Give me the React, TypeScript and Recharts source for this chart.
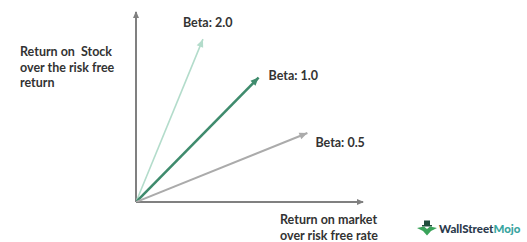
import { ComposedChart, Line, XAxis, YAxis, ReferenceDot, ReferenceLine, LabelList } from 'recharts';

// end points of the three beta arrows (all start at the origin)
const betas = ['2.0', '1.0', '0.5'];
const endX = [2.95, 5.4, 7.55];
const endY = [7.2, 5.5, 3.05];
const X_MAX = 10;
const Y_MAX = 8.4;

const yTitle = ['Return on  Stock', 'over the risk free', 'return'];
const xTitle = ['Return on market', 'over risk free rate'];

const LINE_STYLE: Record<string, { color: string; width: number; dx: number; dy: number }> = {
  '2.0': { color: '#b3dccb', width: 1.6, dx: -20, dy: -17 },
  '1.0': { color: '#3f8b6d', width: 2.6, dx: 10, dy: -2 },
  '0.5': { color: '#ababab', width: 2, dx: 8, dy: 9 },
};

const FONT = 'Lato, "Open Sans", sans-serif';
const AXIS = '#808080';

const arrowHead = (x: number, y: number, ang: number, color: string, len = 8, half = 3.5) => {
  const c = Math.cos(ang);
  const s = Math.sin(ang);
  const bx = x - len * c;
  const by = y - len * s;
  const pts = [
    [x, y],
    [bx - half * s, by + half * c],
    [bx + half * s, by - half * c],
  ];
  return <polygon points={pts.map((p) => p.join(',')).join(' ')} fill={color} />;
};

const makeDot = (color: string) => (p: any) => {
  if (p.index !== 1) return <g key={`d-${p.index}`} />;
  const o = p.points?.[0] ?? { x: 136, y: 202 };
  const ang = Math.atan2(p.cy - o.y, p.cx - o.x);
  return <g key={`d-${p.index}`}>{arrowHead(p.cx, p.cy, ang, color)}</g>;
};

const makeLabel = (beta: string) => (p: any) => {
  if (p.index !== 1) return null;
  const st = LINE_STYLE[beta];
  return (
    <text
      x={p.x + st.dx}
      y={p.y + st.dy}
      dominantBaseline="central"
      fontFamily={FONT}
      fontWeight={700}
      fontSize={12.5}
      fill="#333"
    >
      {`Beta: ${beta}`}
    </text>
  );
};

const Logo = () => (
  <div style={{ position: 'absolute', left: 417, top: 220, display: 'flex', alignItems: 'center', fontFamily: FONT, fontWeight: 900, fontSize: 11.5 }}>
    <svg width={20} height={16} viewBox="0 0 20 16">
      <rect x={7} y={0.5} width={6} height={5} fill="#1f4d3b" />
      <rect x={5} y={5} width={10} height={1.5} fill="#1f4d3b" />
      <path d="M0 8 L7 6.5 L10 9 L13 6.5 L20 8 L14 11 L10 15.5 L6 11 Z" fill="#3aa35a" />
    </svg>
    <span style={{ color: '#2b3a4d', marginLeft: 2 }}>WallStreet</span>
    <span style={{ color: '#3aa5a0' }}>Mojo</span>
  </div>
);

export default function App() {
  return (
    <div style={{ position: 'absolute', left: 0, top: 0, width: 527, height: 242, background: '#fff' }}>
      <ComposedChart width={527} height={242} margin={{ top: 12, right: 164, bottom: 40, left: 136 }}>
        <XAxis type="number" dataKey="x" domain={[0, X_MAX]} hide allowDataOverflow />
        <YAxis type="number" dataKey="y" domain={[0, Y_MAX]} hide allowDataOverflow />
        <ReferenceLine
          segment={[{ x: 0, y: 0 }, { x: X_MAX, y: 0 }]}
          stroke={AXIS}
          strokeWidth={2}
          ifOverflow="visible"
        />
        <ReferenceLine
          segment={[{ x: 0, y: 0 }, { x: 0, y: Y_MAX }]}
          stroke={AXIS}
          strokeWidth={2}
          ifOverflow="visible"
        />
        <ReferenceDot
          x={X_MAX}
          y={0}
          ifOverflow="visible"
          shape={(p: any) => arrowHead(p.cx + 1, p.cy, 0, AXIS, 7, 3)}
        />
        <ReferenceDot
          x={0}
          y={Y_MAX}
          ifOverflow="visible"
          shape={(p: any) => arrowHead(p.cx, p.cy - 1, -Math.PI / 2, AXIS, 7, 3)}
        />
        {betas.map((b, i) => (
          <Line
            key={b}
            data={[
              { x: 0, y: 0 },
              { x: endX[i], y: endY[i] },
            ]}
            dataKey="y"
            stroke={LINE_STYLE[b].color}
            strokeWidth={LINE_STYLE[b].width}
            dot={makeDot(LINE_STYLE[b].color)}
            activeDot={false}
            isAnimationActive={false}
          >
            <LabelList dataKey="y" content={makeLabel(b)} />
          </Line>
        ))}
      </ComposedChart>
      <div style={{ position: 'absolute', left: 20, top: 44, fontFamily: FONT, fontWeight: 700, fontSize: 12.5, lineHeight: '15.5px', color: '#333', whiteSpace: 'pre' }}>
        {yTitle.join('\n')}
      </div>
      <div style={{ position: 'absolute', left: 280, top: 212, fontFamily: FONT, fontWeight: 700, fontSize: 12.5, lineHeight: '16px', color: '#333', whiteSpace: 'pre' }}>
        {xTitle.join('\n')}
      </div>
      <Logo />
    </div>
  );
}
